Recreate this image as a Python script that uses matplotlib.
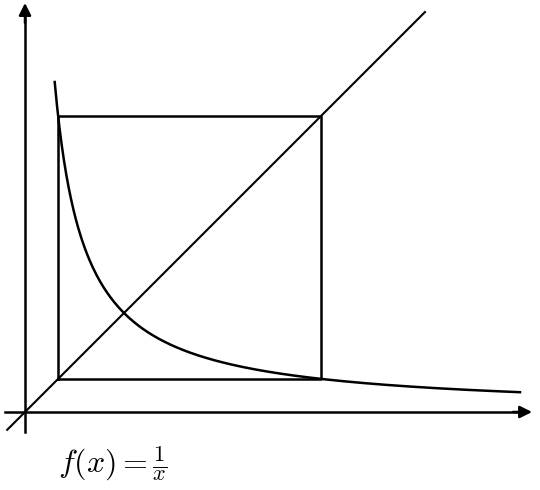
import matplotlib.pyplot as plt
import numpy as np

plt.rcParams['mathtext.fontset'] = 'cm'

# square corners (a, a) to (1/a, 1/a) on y = 1/x
a = 0.335
b = 1 / a
curve_x = np.linspace(0.30, 5.0, 400)
diag_end = [-0.18, 4.04]

u = 99.0  # pixels per unit
fig = plt.figure(figsize=(5.4, 4.9), dpi=100)
ax = fig.add_axes([0, 0, 1, 1])
ax.set_xlim(-25 / u, 515 / u)
ax.set_ylim(-78 / u, 412 / u)
ax.axis('off')

lw = 1.8
# axes with arrows
ax.plot([-0.2, 5.0], [0, 0], color='black', lw=lw)
ax.plot([0, 0], [-0.2, 4.0], color='black', lw=lw)
ax.annotate('', xy=(5.15, 0), xytext=(4.9, 0),
            arrowprops=dict(arrowstyle='-|>', color='black', lw=lw, mutation_scale=18))
ax.annotate('', xy=(0, 4.16), xytext=(0, 3.9),
            arrowprops=dict(arrowstyle='-|>', color='black', lw=lw, mutation_scale=18))

ax.plot(diag_end, diag_end, color='black', lw=1.5)
ax.plot(curve_x, 1 / curve_x, color='black', lw=lw)
ax.plot([a, b, b, a, a], [a, a, b, b, a], color='black', lw=lw)

ax.text(0.33, -0.52, r'$f(x) = \frac{1}{x}$', fontsize=23, va='center')

fig.savefig('out.png', dpi=100)
